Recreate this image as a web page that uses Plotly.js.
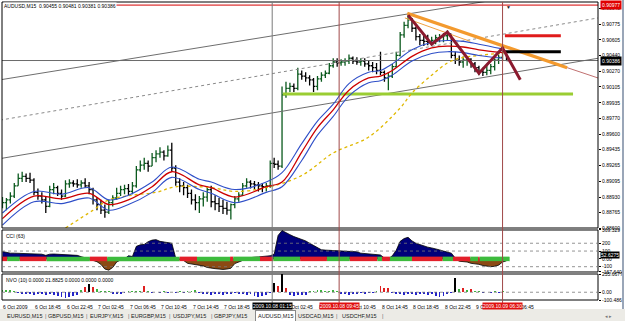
<!DOCTYPE html>
<html><head><meta charset="utf-8">
<script src="https://cdn.plot.ly/plotly-3.0.1.min.js"></script>
<style>html,body{margin:0;padding:0;background:#fff}#c{width:625px;height:321px}</style>
</head><body><div id="c"></div>
<script>
// ---- time axis (hours since 6 Oct 2009 00:00) ----
const barStart = 15, barStep = 0.5;
const firstOpen = 0.8885;
const priceHigh = [.8893,.8892,.8898,.8908,.8918,.8920,.8918,.8919,.8913,.8902,
.8898,.8894,.8905,.8908,.8905,.8901,.8911,.8912,.8911,.8912,
.8911,.8913,.8909,.8903,.8893,.8890,.8885,.8890,.8895,.8903,
.8905,.8906,.8907,.8909,.8926,.8932,.8935,.8932,.8940,.8943,
.8946,.8943,.8948,.8951,.8927,.8913,.8909,.8906,.8901,.8896,
.8894,.8898,.8904,.8905,.8895,.8892,.8890,.8888,.8886,.8894,
.8898,.8908,.8913,.8911,.8910,.8909,.8908,.8908,.8932,.8935,
.8932,.9011,.9016,.9015,.9014,.9031,.9028,.9026,.9023,.9020,
.9022,.9026,.9028,.9036,.9041,.9041,.9040,.9041,.9045,.9043,
.9042,.9041,.9041,.9039,.9037,.9036,.9048,.9028,.9026,.9035,
.9048,.9069,.9080,.9087,.9084,.9075,.9067,.9065,.9066,.9064,
.9066,.9067,.9068,.9071,.9067,.9048,.9044,.9043,.9043,.9041,
.9037,.9033,.9031,.9033,.9035,.9041,.9045,.9052,.9048];
const priceLow = [.8881,.8879,.8886,.8892,.8905,.8909,.8909,.8908,.8895,.8890,
.8886,.8876,.8882,.8896,.8894,.8890,.8893,.8903,.8904,.8903,
.8903,.8903,.8896,.8885,.8879,.8875,.8871,.8875,.8883,.8890,
.8894,.8896,.8895,.8896,.8903,.8920,.8922,.8920,.8926,.8930,
.8935,.8932,.8936,.8920,.8905,.8898,.8895,.8892,.8885,.8879,
.8876,.8883,.8888,.8882,.8879,.8877,.8875,.8874,.8869,.8881,
.8888,.8894,.8903,.8902,.8901,.8899,.8898,.8899,.8903,.8924,
.8922,.8924,.8999,.9005,.9005,.9007,.9018,.9016,.9012,.9005,
.9007,.9016,.9020,.9024,.9031,.9032,.9033,.9033,.9035,.9035,
.9034,.9033,.9032,.9028,.9026,.9024,.9023,.9016,.9007,.9020,
.9031,.9043,.9063,.9073,.9069,.9060,.9055,.9054,.9055,.9055,
.9056,.9058,.9058,.9060,.9041,.9035,.9033,.9031,.9033,.9031,
.9026,.9023,.9022,.9023,.9024,.9028,.9035,.9039,.9038];
const priceClose = [.8887,.8890,.8894,.8905,.8913,.8915,.8913,.8911,.8898,.8894,
.8890,.8883,.8901,.8903,.8897,.8894,.8907,.8908,.8907,.8906,
.8908,.8905,.8901,.8890,.8885,.8879,.8877,.8887,.8892,.8897,
.8901,.8902,.8899,.8905,.8922,.8927,.8929,.8926,.8935,.8939,
.8941,.8937,.8943,.8924,.8909,.8905,.8903,.8897,.8890,.8887,
.8891,.8893,.8901,.8888,.8886,.8883,.8881,.8879,.8885,.8891,
.8895,.8905,.8909,.8907,.8906,.8905,.8904,.8905,.8929,.8928,
.8926,.9002,.9009,.9011,.9009,.9024,.9022,.9020,.9018,.9011,
.9019,.9023,.9025,.9033,.9037,.9036,.9037,.9038,.9041,.9038,
.9037,.9038,.9035,.9033,.9031,.9028,.9026,.9020,.9022,.9032,
.9044,.9066,.9076,.9082,.9073,.9064,.9060,.9059,.9058,.9060,
.9063,.9064,.9065,.9067,.9044,.9039,.9037,.9039,.9040,.9035,
.9031,.9027,.9026,.9028,.9032,.9039,.9042,.9048,.90386];

// moving-average band (read at these times)
const maTime = [15,19,22.5,26,28.5,31,34,36.5,40,41.5,44.5,48.5,50.5,53,55,57,59,61.5,63,64.5,67,69.5,71.5,73.5,75.5,78.5];
const maMid = [.8870,.8894,.8891,.8897,.8885,.8890,.8904,.8920,.8906,.8903,.8893,.8904,.8909,.8941,.8967,.8986,.9007,.9020,.9022,.9028,.9043,.9052,.9054,.9053,.9050,.9047];
const maUp  = [.8876,.8899,.8896,.8903,.8890,.8895,.8909,.8925,.8912,.8909,.8901,.8909,.8919,.8950,.8974,.8992,.9014,.9026,.9028,.9035,.9050,.9058,.9060,.9059,.9056,.9051];
const maLo  = [.8863,.8888,.8886,.8892,.8879,.8885,.8898,.8914,.8901,.8897,.8887,.8898,.8904,.8932,.8959,.8979,.9001,.9015,.9017,.9023,.9038,.9046,.9048,.9047,.9044,.9041];
const slowTime = [23,26.5,28.5,31.5,34.5,37,41.5,44.5,48.5,53,57,61.5,65.5,67,69.5,71.5,73,75.5,79];
const slowMA   = [.8860,.8879,.8890,.8895,.8898,.8904,.8903,.8899,.8903,.8916,.8940,.8957,.8988,.9004,.9023,.9036,.9041,.9044,.9047];

// zigzag
const zzTime  = [66.5,69.5,71.5,75.5,78.5,80.75];
const zzPrice = [.9087,.9056,.9069,.9025,.9052,.9018];

// drawn objects: [t0, p0, t1, p1]
const trendOrange = [66.4,.9089,86.7,.9031];
const trendOrangeThin = [66.1,.9084,74.4,.9059];
const trendRay = [86.7,.9031,90.62,.9020];
const chanUpper = [14.69,.9018,90.62,.9121];
const chanMid = [14.69,.8975,90.62,.9084];
const chanLower = [14.69,.8934,90.62,.9041];
const levelLime = [50.6,87.45,.9003];
const levelRed = [78.8,85.9,.9065];
const levelBlack = [78.8,85.9,.9048];
const levelTop = [28.3,90.62,.90977];
const bidPrice = 0.90386;

// CCI(63)
const cci = [94,80,73,73,72,70,70,68,65,62,
60,45,60,62,60,58,55,52,50,45,
28,10,0,-20,-36,-70,-130,-144,-110,-40,
-14,-10,40,30,160,180,185,220,240,246,
224,215,210,200,10,-10,-20,-57,-65,-75,
-80,-90,-110,-120,-125,-130,-135,-130,-120,-60,
-40,-14,10,20,22,25,28,30,40,60,
300,362,340,310,285,270,250,230,200,170,
140,116,112,110,108,105,102,100,96,94,
90,73,70,65,60,55,50,10,-15,40,
110,224,260,276,230,200,181,160,150,140,
130,115,100,85,73,10,-30,-36,-40,-57,
-60,-70,-85,-95,-100,-95,-80,-40,-25];
const bandStart = [14.69,15.6,17.2,20.6,26.1,28.3,37.5,39.7,43.9,44.3,47.7,49.4,52.8,56.2,59.1,62.6,63.2,64.2,67.0,70.9,72.2,74.4,75.4,75.6];
const bandState = [-1,1,-1,1,-1,1,-1,1,-1,1,-1,1,-1,1,-1,1,-1,1,-1,1,-1,1,-1,1];
const bandEnd = 79.4;

// NVO(10)
const nvo = [25,30,35,20,-15,-20,-25,-20,-30,-25,
-20,-30,-25,-35,-50,-60,-70,-65,-55,-30,
30,70,108,70,40,15,12,10,-20,-25,
-20,-15,10,12,15,20,75,10,-10,8,
-8,10,-10,8,-12,10,-10,12,15,30,
-15,-25,-20,-30,-25,-20,-30,-25,-20,-15,
-25,-20,-30,-25,-50,-60,-55,-30,-15,122,
80,236,60,-30,-45,-40,-35,-30,15,20,
30,25,15,20,25,10,-20,-25,-30,-20,
-25,-15,-20,-15,-10,20,75,60,50,-15,
-20,-25,-30,-20,-25,-30,-25,-20,-30,-25,
-50,-62,-55,-20,-15,190,40,50,30,45,
20,15,-10,8,-12,10,-8,12,8];

// axis labels
const priceTicks = [0.88600,0.88765,0.88930,0.89095,0.89265,0.89435,0.89600,0.89770,0.89935,0.90105,0.90270,0.90440,0.90605,0.90775,0.90940];
const cciTicks = [369.329,200,100,0,-100,-167.64];
const cciTickText = ["369.329","200","100","0.00","-100","-167.640"];
const nvoTicks = [235.6677,0,-100.486];
const nvoTickText = ["235.6677","0.00","-100.486"];
const timeTicks = [14.95,18.75,22.75,26.75,30.75,34.75,38.75,42.75,50.75,54.75,58.75,62.75,66.75,70.75,74.75,78.75];
const timeText = ["6 Oct 2009","6 Oct 18:45","6 Oct 22:45","7 Oct 02:45","7 Oct 06:45","7 Oct 10:45","7 Oct 14:45","7 Oct 18:45","8 Oct 02:45","8 Oct 06:45","8 Oct 10:45","8 Oct 14:45","8 Oct 18:45","8 Oct 22:45","9 Oct 02:45","9 Oct 06:45"];
const vTimes = [49.25,57.75,78.5];
const vText = ["2009.10.08 01:15","2009.10.08 09:45","2009.10.09 06:30"];
const tabs = ["EURUSD,M15","GBPUSD,M15","EURJPY,M15","EURGBP,M15","USDJPY,M15","GBPJPY,M15","AUDUSD,M15","USDCAD,M15","USDCHF,M15"];
const activeTab = "AUDUSD,M15";

// ---------- build ----------
const X0 = 14.94, X1 = 90.62;
const FONT = "Liberation Sans, Arial, sans-serif";
const barTimes = priceClose.map((_, i) => barStart + barStep * i);
const opens = priceClose.map((_, i) => i ? priceClose[i - 1] : firstOpen);
const traces = [];
function seg(a, color, width, dash, ya) {
  traces.push({type:'scatter', mode:'lines', x:[a[0],a[2]], y:[a[1],a[3]], yaxis:ya||'y',
    line:{color, width, dash:dash||'solid'}, hoverinfo:'skip', showlegend:false});
}
function hline(a, color, width) { seg([a[0],a[2],a[1],a[2]], color, width); }

seg(chanUpper,'#6e6e6e',1);
seg(chanMid,'#8a8a8a',1,'dot');
seg(chanLower,'#6e6e6e',1);
hline([X0, X1, bidPrice], '#6a6a6a', 1);
hline(levelTop,'#d40000',1);
hline(levelLime,'#9acd32',3);

traces.push({type:'scatter',mode:'lines',x:slowTime,y:slowMA,line:{color:'#e0b800',width:1.3,dash:'dot',shape:'spline'},hoverinfo:'skip',showlegend:false});
traces.push({type:'scatter',mode:'lines',x:maTime,y:maUp,line:{color:'#2f4fc8',width:1.1,shape:'spline'},hoverinfo:'skip',showlegend:false});
traces.push({type:'scatter',mode:'lines',x:maTime,y:maLo,line:{color:'#2f4fc8',width:1.1,shape:'spline'},hoverinfo:'skip',showlegend:false});
traces.push({type:'scatter',mode:'lines',x:maTime,y:maMid,line:{color:'#cc0000',width:1.3,shape:'spline'},hoverinfo:'skip',showlegend:false});

traces.push({type:'ohlc', x:barTimes, open:opens, high:priceHigh, low:priceLow, close:priceClose,
  increasing:{line:{color:'#0b5a1e',width:1.3}}, decreasing:{line:{color:'#000000',width:1.3}},
  tickwidth:0.45, hoverinfo:'skip', showlegend:false});

seg(trendOrangeThin,'#f0a040',1);
seg(trendOrange,'#f39a2e',3.2);
seg(trendRay,'#c07070',1);
hline(levelRed,'#e01b1b',3);
hline(levelBlack,'#000000',3);
traces.push({type:'scatter',mode:'lines',x:zzTime,y:zzPrice,line:{color:'#8b1a2e',width:3},hoverinfo:'skip',showlegend:false});

// CCI
const cciPos = cci.map(v => Math.max(v, 0));
const cciNeg = cci.map(v => Math.min(v, 0));
traces.push({type:'scatter',mode:'lines',x:barTimes,y:cciPos,yaxis:'y2',fill:'tozeroy',fillcolor:'#00007a',line:{color:'#000',width:0.8},hoverinfo:'skip',showlegend:false});
traces.push({type:'scatter',mode:'lines',x:barTimes,y:cciNeg,yaxis:'y2',fill:'tozeroy',fillcolor:'#8b4a14',line:{color:'#000',width:0.8},hoverinfo:'skip',showlegend:false});
bandStart.forEach((s, k) => {
  const e = k + 1 < bandStart.length ? bandStart[k + 1] : bandEnd;
  seg([s, 0, e, 0], bandState[k] > 0 ? '#3dbb3d' : '#e3202a', 4.5, 'solid', 'y2');
});

// NVO
traces.push({type:'bar', x:barTimes, y:nvo, yaxis:'y3', width:0.24,
  marker:{color:nvo.map(v => v < 0 ? '#2424c8' : v > 100 ? '#000000' : v > 40 ? '#e02020' : '#3cb43c'), line:{width:0}},
  hoverinfo:'skip', showlegend:false});

// layout
const dMain = [0.2416, 1], dCci = [0.094, 0.2349], dNvo = [0, 0.0872];
const tickFont = {family:FONT, size:5, color:'#000'};
const shapes = [];
[dMain, dCci, dNvo].forEach(d => shapes.push({type:'rect', xref:'paper', yref:'paper', x0:0, x1:1, y0:d[0], y1:d[1], line:{color:'#000', width:1}}));
[200,100,-100].forEach(v => shapes.push({type:'line', xref:'paper', yref:'y2', x0:0, x1:1, y0:v, y1:v, line:{color:'#777', width:0.8, dash:'dot'}}));
shapes.push({type:'line', xref:'paper', yref:'y3', x0:0, x1:1, y0:0, y1:0, line:{color:'#777', width:0.8, dash:'dot'}});
vTimes.forEach((t, k) => shapes.push({type:'line', xref:'x', yref:'paper', x0:t, x1:t, y0:-0.01, y1:1, line:{color:k ? '#a04848' : '#7a7a7a', width:1}}));
// tab bar and window edge
shapes.push({type:'rect', xref:'paper', yref:'paper', x0:-0.01, x1:1.05, y0:-0.075, y1:-0.03, fillcolor:'#ecebe6', line:{width:0}, layer:'below'});
shapes.push({type:'line', xref:'paper', yref:'paper', x0:(623-2)/596, x1:(623-2)/596, y0:-0.03, y1:1.01, line:{color:'#9aa6b8', width:2}});

const annotations = [];
annotations.push({xref:'paper', yref:'paper', x:0.002, y:1, xanchor:'left', yanchor:'top', text:'AUDUSD,M15  0.90455 0.90481 0.90381 0.90386', showarrow:false, font:{family:FONT,size:5,color:'#000'}, bgcolor:'#fff', borderpad:0});
annotations.push({xref:'paper', yref:'paper', x:0.004, y:dCci[1] - 0.004, xanchor:'left', yanchor:'top', text:'CCI (63)', showarrow:false, font:{family:FONT,size:5,color:'#000'}});
annotations.push({xref:'paper', yref:'paper', x:0.004, y:dNvo[1] - 0.004, xanchor:'left', yanchor:'top', text:'NVO (10) 0.0000 21.8825 0.0000 0.0000 0.0000', showarrow:false, font:{family:FONT,size:5,color:'#000'}});
annotations.push({xref:'paper', yref:'y', x:1.003, y:levelTop[2], xanchor:'left', yanchor:'middle', text:'0.90977', showarrow:false, font:{family:FONT,size:5,color:'#fff'}, bgcolor:'#e00000', borderpad:1});
annotations.push({xref:'paper', yref:'y', x:1.003, y:bidPrice, xanchor:'left', yanchor:'middle', text:bidPrice.toFixed(5), showarrow:false, font:{family:FONT,size:5,color:'#fff'}, bgcolor:'#000', borderpad:1});
annotations.push({xref:'paper', yref:'y2', x:1.003, y:52.6275, xanchor:'left', yanchor:'middle', text:'52.6275', showarrow:false, font:{family:FONT,size:5,color:'#fff'}, bgcolor:'#000', borderpad:0});
annotations.push({xref:'x', yref:'paper', x:79.3, y:1, xanchor:'center', yanchor:'top', text:'▼', showarrow:false, font:{family:FONT,size:5,color:'#222'}});
timeTicks.forEach((t, k) => annotations.push({xref:'x', yref:'paper', x:t, y:-0.008, xanchor:'left', yanchor:'top', text:timeText[k], showarrow:false, font:{family:FONT,size:5,color:'#000'}, xshift:k ? 1 : -1}));
vTimes.forEach((t, k) => annotations.push({xref:'x', yref:'paper', x:t, y:-0.008, xanchor:'center', yanchor:'top', text:vText[k], showarrow:false, font:{family:FONT,size:5,color:'#fff'}, bgcolor:k ? '#e01010' : '#000', borderpad:0}));
// tabs
const tabX = [7,48,90,131,173,214,255,298,342];
tabs.forEach((t, k) => {
  const px = (tabX[k] - 2) / 596;
  const act = t === activeTab;
  annotations.push({xref:'paper', yref:'paper', x:px, y:-0.0525, xanchor:'left', yanchor:'middle', text:t, showarrow:false,
    font:{family:FONT,size:5.5,color:'#222'}, bgcolor:act ? '#fff' : 'rgba(0,0,0,0)', bordercolor:act ? '#888' : 'rgba(0,0,0,0)', borderwidth:act ? 1 : 0, borderpad:act ? 2 : 0});
  if (k < tabs.length - 1 && !act && tabs[k+1] !== activeTab) annotations.push({xref:'paper', yref:'paper', x:px + 36/596, y:-0.0525, xanchor:'left', yanchor:'middle', text:'|', showarrow:false, font:{family:FONT,size:5.5,color:'#666'}});
});
annotations.push({xref:'paper', yref:'paper', x:(380-2)/596, y:-0.0525, xanchor:'left', yanchor:'middle', text:'|', showarrow:false, font:{family:FONT,size:5.5,color:'#666'}});
annotations.push({xref:'paper', yref:'paper', x:(603-2)/596, y:-0.0525, xanchor:'left', yanchor:'middle', text:'◂ ▸', showarrow:false, font:{family:FONT,size:5,color:'#777'}});

const yBase = {side:'right', ticks:'outside', ticklen:2, tickcolor:'#000', tickfont:tickFont, showgrid:false, zeroline:false, showline:false, automargin:false, fixedrange:true, anchor:'x'};
const layout = {
  width:625, height:321, margin:{l:2, r:27, t:2, b:21}, paper_bgcolor:'#fff', plot_bgcolor:'#fff',
  showlegend:false, hovermode:false, dragmode:false, bargap:0,
  xaxis:{range:[X0, X1], showticklabels:false, showgrid:false, zeroline:false, showline:false, ticks:'', rangeslider:{visible:false}, fixedrange:true, anchor:'y3'},
  yaxis:Object.assign({}, yBase, {domain:dMain, range:[0.8860, 0.9101], tickvals:priceTicks, ticktext:priceTicks.map(v => v.toFixed(5))}),
  yaxis2:Object.assign({}, yBase, {domain:dCci, range:[-167.64, 369.329], tickvals:cciTicks, ticktext:cciTickText}),
  yaxis3:Object.assign({}, yBase, {domain:dNvo, range:[-100.486, 235.6677], tickvals:nvoTicks, ticktext:nvoTickText}),
  shapes, annotations
};
Plotly.newPlot('c', traces, layout, {staticPlot:true, displayModeBar:false});
</script></body></html>
